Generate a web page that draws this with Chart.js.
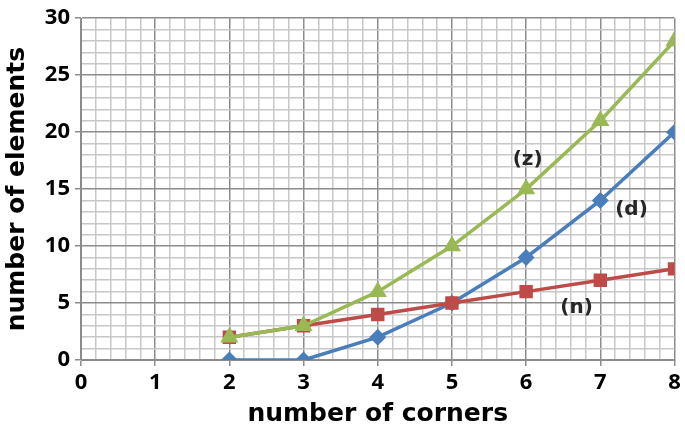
<!DOCTYPE html>
<html lang="en">
<head>
    <meta charset="UTF-8">
    <title>number of elements vs number of corners</title>
    <script src="https://cdn.jsdelivr.net/npm/chart.js"></script>
    <style>
        html, body { margin: 0; padding: 0; background: #fff; }
        #wrap { width: 685px; height: 429px; }
    </style>
</head>
<body>
    <div id="wrap"><canvas id="chart"></canvas></div>

    <script>
        // data
        const corners = [2, 3, 4, 5, 6, 7, 8];
        const zValues = [2, 3, 6, 10, 15, 21, 28];
        const nValues = [2, 3, 4, 5, 6, 7, 8];
        const dValues = [0, 0, 2, 5, 9, 14, 20];

        // curve annotations
        const noteText = ['(z)', '(d)', '(n)'];
        const noteX = [6.02, 7.42, 6.68];
        const noteY = [17.6, 13.2, 4.6];

        const toPoints = vals => corners.map((c, i) => ({ x: c, y: vals[i] }));

        const majorGrid = '#8c8c8c';
        const minorGrid = '#c8c8c8';
        const tickFont = { family: 'Open Sans', weight: 'bold', size: 22 };
        const titleFont = { family: 'DejaVu Sans', weight: 'bold', size: 25 };

        const isInt = v => Math.abs(v - Math.round(v)) < 1e-6;

        const notesPlugin = {
            id: 'notes',
            afterDatasetsDraw(chart) {
                const ctx = chart.ctx;
                const xs = chart.scales.x, ys = chart.scales.y;
                ctx.save();
                ctx.font = 'bold 20px "DejaVu Sans"';
                ctx.fillStyle = '#262626';
                ctx.textAlign = 'center';
                ctx.textBaseline = 'middle';
                noteText.forEach((t, i) => {
                    ctx.fillText(t, xs.getPixelForValue(noteX[i]), ys.getPixelForValue(noteY[i]));
                });
                ctx.restore();
            }
        };

        new Chart(document.getElementById('chart'), {
            type: 'line',
            data: {
                datasets: [
                    {
                        label: '(z)',
                        data: toPoints(zValues),
                        borderColor: '#98B954',
                        backgroundColor: '#98B954',
                        pointStyle: 'triangle',
                        pointRadius: 7,
                        borderWidth: 3.5
                    },
                    {
                        label: '(n)',
                        data: toPoints(nValues),
                        borderColor: '#BE4B48',
                        backgroundColor: '#BE4B48',
                        pointStyle: 'rect',
                        pointRadius: 7,
                        borderWidth: 3.5
                    },
                    {
                        label: '(d)',
                        data: toPoints(dValues),
                        borderColor: '#4A7EBB',
                        backgroundColor: '#4A7EBB',
                        pointStyle: 'rectRot',
                        pointRadius: 6,
                        borderWidth: 3.5
                    }
                ]
            },
            options: {
                responsive: true,
                maintainAspectRatio: false,
                animation: false,
                events: [],
                layout: { padding: { left: 0, right: 10, top: 15, bottom: 0 } },
                plugins: {
                    legend: { display: false },
                    tooltip: { enabled: false }
                },
                scales: {
                    x: {
                        type: 'linear',
                        min: 0,
                        max: 8,
                        afterFit(scale) { scale.height = 69; },
                        border: { color: majorGrid, width: 1 },
                        grid: {
                            color: c => isInt(c.tick.value) ? majorGrid : minorGrid,
                            tickColor: c => isInt(c.tick.value) ? majorGrid : 'rgba(0,0,0,0)',
                            lineWidth: 1.5,
                            tickLength: 6
                        },
                        ticks: {
                            stepSize: 0.2,
                            autoSkip: false,
                            maxRotation: 0,
                            padding: 4,
                            color: '#000',
                            font: tickFont,
                            callback: v => isInt(v) ? String(Math.round(v)) : ''
                        },
                        title: {
                            display: true,
                            text: 'number of corners',
                            color: '#000',
                            font: titleFont,
                            padding: { top: 0, bottom: 0 }
                        }
                    },
                    y: {
                        min: 0,
                        max: 30,
                        afterFit(scale) { scale.width = 81; },
                        border: { color: majorGrid, width: 1 },
                        grid: {
                            color: c => c.tick.value % 5 === 0 ? majorGrid : minorGrid,
                            tickColor: c => c.tick.value % 5 === 0 ? majorGrid : 'rgba(0,0,0,0)',
                            lineWidth: 1.5,
                            tickLength: 6
                        },
                        ticks: {
                            stepSize: 1,
                            autoSkip: false,
                            padding: 5,
                            color: '#000',
                            font: tickFont,
                            callback: v => v % 5 === 0 ? String(v) : ''
                        },
                        title: {
                            display: true,
                            text: 'number of elements',
                            color: '#000',
                            font: titleFont,
                            padding: { top: 2, bottom: 0 }
                        }
                    }
                }
            },
            plugins: [notesPlugin]
        });
    </script>
</body>
</html>
